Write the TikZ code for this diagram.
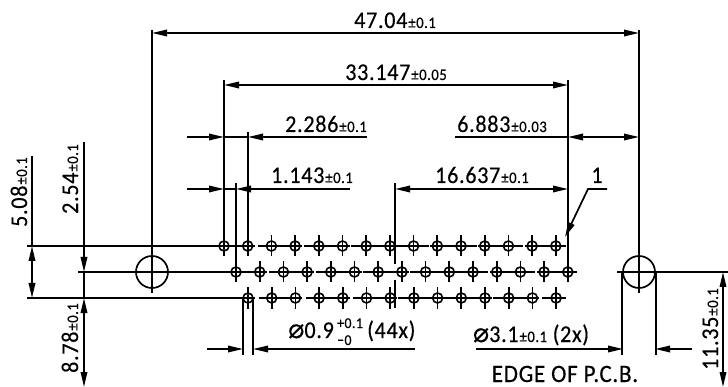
\documentclass[tikz,border=0pt]{standalone}
\usepackage{fontspec}
\setmainfont[FakeBold=0.35,FakeStretch=0.92,LetterSpace=3]{Carlito}
\newfontfamily\symfont[FakeBold=0.2]{DejaVu Sans}
\usepackage{xcolor}
\usetikzlibrary{arrows.meta, positioning, calc}
\tikzstyle{line} = [line width=1.7pt]
\tikzstyle{dim} = [line width=1.7pt, >={Stealth[length=15pt,width=6.5pt,inset=0pt]}]
\tikzstyle{hole} = [circle, draw=black, line width=1.6pt, minimum size=10pt, inner sep=0pt]
\tikzstyle{bighole} = [circle, draw=black, line width=1.7pt, minimum size=32pt, inner sep=0pt]
\tikzstyle{label} = [anchor=base, inner sep=0pt, font=\fontsize{24}{24}\selectfont]
\tikzstyle{small} = [anchor=base west, inner sep=0pt, font=\fontsize{15}{15}\selectfont]
\newcommand{\tol}[2]{#1\hspace{1pt}{\fontsize{16}{16}\selectfont ±#2}}
\newcommand{\dia}{{\symfont\fontsize{27}{27}\selectfont ⌀}}

\begin{document}
\begin{tikzpicture}[x=1pt, y=-1pt]
    \useasboundingbox (0,0) rectangle (728,387);

    % Mounting holes
    \node[bighole] (holeL) at (152,272) {};
    \node[bighole] (holeR) at (639,272) {};
    \draw[line] (holeL.center) -- ++(0,-242);
    \draw[line] (holeL.center) -- ++(0,21);
    \draw[line] (holeR.center) -- ++(0,-242);
    \draw[line] (holeR.center) -- ++(0,21);

    % Pin rows
    \foreach \i in {0,...,14} {
        \node[hole] (top\i) at ({224+23.7*\i},246) {};
        \draw[line] (top\i.center) +(0,-10.5) -- +(0,10.5) +(-7,0) -- +(7,0);
        \node[hole] (mid\i) at ({236+23.7*\i},272) {};
        \draw[line] (mid\i.center) +(0,-10.5) -- +(0,10.5) +(-7,0) -- +(7,0);
    }
    \foreach \i in {0,...,13} {
        \node[hole] (bot\i) at ({248+23.7*\i},298) {};
        \draw[line] (bot\i.center) +(0,-10.5) -- +(0,10.5) +(-7,0) -- +(7,0);
    }

    % Centre lines
    \foreach \a/\b in {27/253,258/301,304/346,351/393,397/429,433/477,480/523,526/566}
        \draw[line] (\a,246) -- (\b,246);
    \foreach \a/\b in {78/265,269/312,316/358,363/406,410/442,445/488,491/535,539/577}
        \draw[line] (\a,272) -- (\b,272);
    \foreach \a/\b in {27/253,259/301,306/349,353/395,398/441,445/489,493/537,542/566}
        \draw[line] (\a,298) -- (\b,298);
    \draw[line] (holeR.center) ++(-22,0) -- (728,272);

    % Extension lines
    \draw[line] (top0.center) -- ++(0,-166);
    \draw[line] (top1.center) -- ++(0,-114);
    \draw[line] (mid0.center) -- ++(0,-89);
    \draw[line] (mid14.center) -- ++(0,-192);
    \draw[line] (395,183) -- (395,264);
    \draw[line] (395,280) -- (395,308);
    \draw[line] (243,298) -- (243,355);
    \draw[line] (253,298) -- (253,355);
    \draw[line] (holeR.west) -- ++(0,83);
    \draw[line] (holeR.east) -- ++(0,83);

    % Top dimensions
    \draw[dim,<->] (152,33) -- (639,33);
    \node[label] (overall) at (395,28) {\tol{47.04}{0.1}};
    \draw[dim,<->] (224,85) -- (568,85);
    \node[label] (span) at (396,80) {\tol{33.147}{0.05}};
    \draw[dim,->] (187,137) -- (224,137);
    \draw[line] (224,137) -- (248,137);
    \draw[dim,->] (367,137) -- (248,137);
    \node[label] (offa) at (326,132) {\tol{2.286}{0.1}};
    \draw[line] (455,137) -- (568,137);
    \draw[dim,<->] (568,137) -- (639,137);
    \node[label] (offb) at (502,132) {\tol{6.883}{0.03}};
    \draw[dim,->] (187,189) -- (224,189);
    \draw[line] (224,189) -- (236,189);
    \draw[dim,->] (350,189) -- (236,189);
    \node[label] (pitch) at (312,183) {\tol{1.143}{0.1}};
    \draw[dim,<->] (395,189) -- (568,189);
    \node[label] (half) at (482,183) {\tol{16.637}{0.1}};

    % Leader
    \draw[dim,->] (607,189) -- (588,189) -- (565,237);
    \node[label] (pinone) at (597,183) {1};

    % Left dimensions
    \draw[line] (32,156) -- (32,246);
    \draw[dim,<->] (32,246) -- (32,298);
    \node[label, rotate=90] (rowa) at (27,192) {\tol{5.08}{0.1}};
    \draw[dim,->] (84,142) -- (84,272);
    \draw[line] (84,272) -- (84,298);
    \draw[dim,<->] (84,298) -- (84,387);
    \node[label, rotate=90] (rowb) at (78,179) {\tol{2.54}{0.1}};
    \node[label, rotate=90] (edgea) at (78,338) {\tol{8.78}{0.1}};

    % Right dimension
    \draw[dim,<->] (723,272) -- (723,387);
    \node[label, rotate=90] (edgeb) at (718,329) {\tol{11.35}{0.1}};

    % Bottom dimensions
    \draw[dim,->] (207,349) -- (243,349);
    \draw[dim,->] (415,349) -- (253,349);
    \node[label, anchor=base west] (pindia) at (288,338) {\dia 0.9};
    \node[small] (pinup) at (337,328) {+0.1};
    \node[small] (pinlow) at (337,345) {−0};
    \node[label, anchor=base west] (pincount) at (367,338) {(44x)};
    \draw[dim,->] (476,349) -- (623,349);
    \draw[dim,->] (692,349) -- (655,349);
    \node[label] (holedia) at (531,342) {\dia\tol{3.1}{0.1} (2x)};
    \node[label] (edge) at (565,382) {\fontsize{25}{25}\selectfont EDGE OF P.C.B.};
\end{tikzpicture}
\end{document}
